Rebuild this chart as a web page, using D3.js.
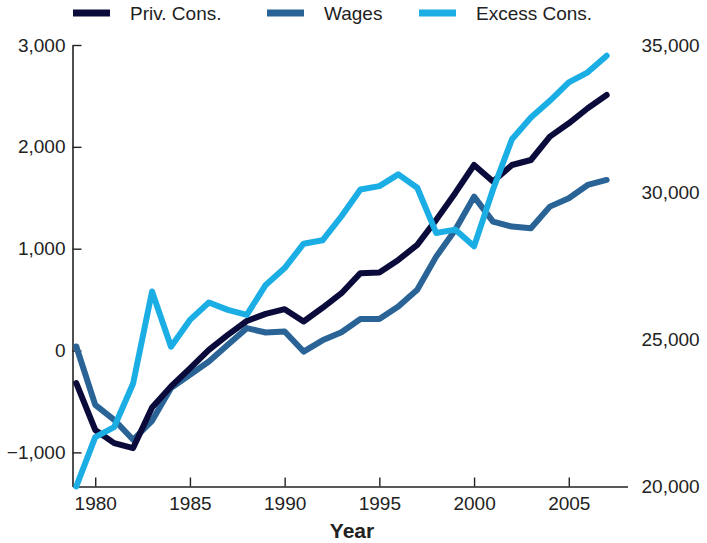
<!DOCTYPE html>
<html>
<head>
<meta charset="utf-8">
<script src="https://cdn.jsdelivr.net/npm/d3@7/dist/d3.min.js"></script>
<style>
  body { margin: 0; background: #fff; }
  text { font-family: "Liberation Sans", Arial, sans-serif; fill: #222; }
</style>
</head>
<body>
<svg id="chart"></svg>
<script>
// ---- data ----
const years = [1979, 1980, 1981, 1982, 1983, 1984, 1985, 1986, 1987, 1988, 1989,
  1990, 1991, 1992, 1993, 1994, 1995, 1996, 1997, 1998, 1999,
  2000, 2001, 2002, 2003, 2004, 2005, 2006, 2007];

const privCons = [-320, -780, -909, -958, -560, -353, -175, 7, 154, 290, 360,
  406, 285, 420, 563, 760, 766, 890, 1037, 1283, 1545,
  1822, 1659, 1822, 1871, 2100, 2231, 2379, 2509];

const wages = [40, -533, -680, -876, -690, -369, -238, -108, 56, 220, 177,
  187, -10, 100, 180, 310, 310, 432, 596, 922, 1184,
  1511, 1266, 1217, 1201, 1413, 1495, 1626, 1675];

const excessCons = [20000, 21680, 22020, 23500, 26625, 24750, 25660, 26250, 26000, 25830, 26850,
  27420, 28250, 28365, 29182, 30092, 30205, 30603, 30150, 28615, 28728,
  28160, 30092, 31797, 32536, 33103, 33730, 34070, 34637];

const xTicks = [1980, 1985, 1990, 1995, 2000, 2005];
const leftTicks = [-1000, 0, 1000, 2000, 3000];
const rightTicks = [20000, 25000, 30000, 35000];

const seriesNames = ["Priv. Cons.", "Wages", "Excess Cons."];
const seriesColors = ["#0b0b3b", "#2a6496", "#1aaee5"];

// ---- layout ----
const width = 707, height = 543;
const svg = d3.select("#chart").attr("width", width).attr("height", height);

const x = d3.scaleLinear().domain([1978.8, 2008.1]).range([72.5, 627.5]);
const yLeft = d3.scaleLinear().domain([-1335, 3000]).range([486.5, 45]);
const yRight = d3.scaleLinear().domain([20000, 35000]).range([486.5, 45]);

const fmt = d3.format(",");

// x axis (ticks pointing up into the plot)
const xAxisG = svg.append("g")
  .attr("transform", `translate(0,${yLeft.range()[0]})`)
  .call(d3.axisBottom(x).tickValues(xTicks).tickFormat(d3.format("d"))
    .tickSizeInner(-9).tickSizeOuter(0).tickPadding(7));
xAxisG.select(".domain").attr("stroke", "#222").attr("stroke-width", 1.6);
xAxisG.selectAll(".tick line").attr("stroke", "#222").attr("stroke-width", 1.4);
xAxisG.selectAll(".tick text").attr("font-size", 19).attr("fill", "#222")
  .attr("font-family", "Liberation Sans, Arial, sans-serif").attr("dy", "0.85em");

// left axis (ticks pointing right)
const yAxisG = svg.append("g")
  .attr("transform", `translate(${x.range()[0]},0)`)
  .call(d3.axisLeft(yLeft).tickValues(leftTicks).tickFormat(fmt)
    .tickSizeInner(-9).tickSizeOuter(0).tickPadding(7));
yAxisG.select(".domain").attr("stroke", "#222").attr("stroke-width", 1.6);
yAxisG.selectAll(".tick line").attr("stroke", "#222").attr("stroke-width", 1.4);
yAxisG.selectAll(".tick text").attr("font-size", 19).attr("fill", "#222")
  .attr("font-family", "Liberation Sans, Arial, sans-serif");

// right axis: labels only
const rAxisG = svg.append("g")
  .attr("transform", `translate(${x.range()[1]},0)`)
  .call(d3.axisRight(yRight).tickValues(rightTicks).tickFormat(fmt)
    .tickSize(0).tickPadding(14));
rAxisG.select(".domain").remove();
rAxisG.selectAll(".tick text").attr("font-size", 19).attr("fill", "#222")
  .attr("font-family", "Liberation Sans, Arial, sans-serif");

// axis title
svg.append("text")
  .attr("x", 352).attr("y", 538)
  .attr("text-anchor", "middle")
  .attr("font-size", 21).attr("font-weight", "bold")
  .text("Year");

// ---- lines ----
const lineLeft = d3.line().x((d, i) => x(years[i])).y(d => yLeft(d));
const lineRight = d3.line().x((d, i) => x(years[i])).y(d => yRight(d));

const drawOrder = [
  { data: wages, gen: lineLeft, color: seriesColors[1] },
  { data: privCons, gen: lineLeft, color: seriesColors[0] },
  { data: excessCons, gen: lineRight, color: seriesColors[2] }
];

svg.append("g").selectAll("path")
  .data(drawOrder)
  .join("path")
  .attr("fill", "none")
  .attr("stroke", d => d.color)
  .attr("stroke-width", 6)
  .attr("stroke-linejoin", "round")
  .attr("stroke-linecap", "round")
  .attr("d", d => d.gen(d.data));

// ---- legend ----
const legendX = [73, 267, 419];
const legend = svg.append("g").selectAll("g")
  .data(seriesNames)
  .join("g")
  .attr("transform", (d, i) => `translate(${legendX[i]},13)`);

legend.append("rect")
  .attr("x", 0).attr("y", -3.5)
  .attr("width", 37).attr("height", 7)
  .attr("fill", (d, i) => seriesColors[i]);

legend.append("text")
  .attr("x", 57).attr("dy", "0.35em")
  .attr("font-size", 19)
  .text(d => d);
</script>
</body>
</html>
